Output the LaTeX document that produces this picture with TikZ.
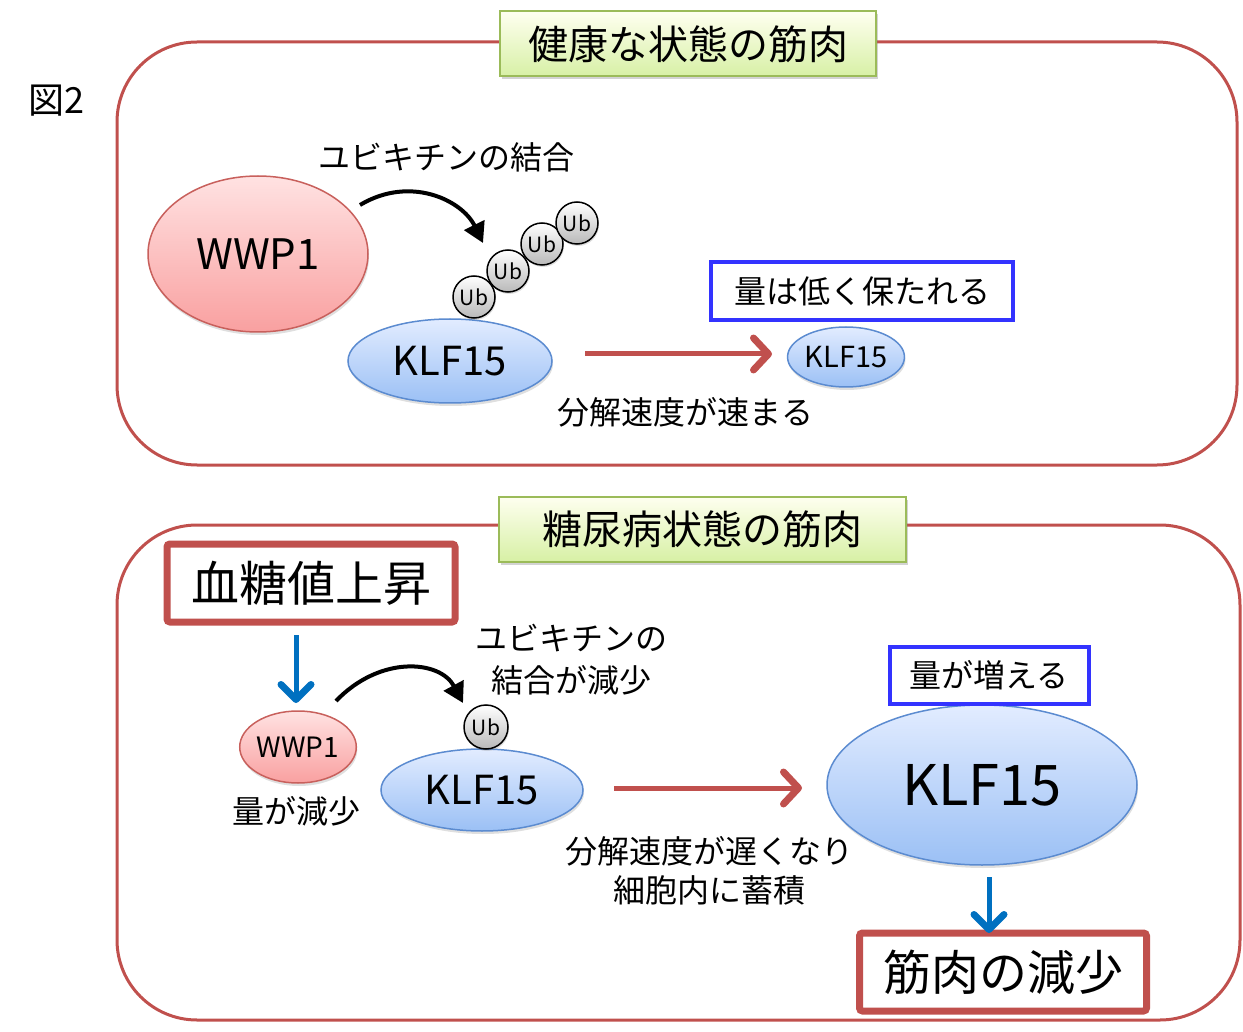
\documentclass[tikz,border=0pt]{standalone}
\usepackage{fontspec}
\setmainfont{Noto Sans CJK JP}
\usetikzlibrary{arrows.meta,shadows,shapes.geometric}
\definecolor{pred}{HTML}{C0504D}
\definecolor{pblue}{HTML}{3333FF}
\definecolor{arblue}{HTML}{0070C0}
\definecolor{gborder}{HTML}{9BBB59}
\definecolor{kborder}{HTML}{5B8BD0}
\definecolor{wborder}{HTML}{C8605C}
\tikzset{
  panel/.style={draw=pred,line width=3pt,rounded corners=80pt},
  titlebox/.style={draw=gborder,line width=2pt,top color=green!4!yellow!6!white,bottom color={rgb,255:red,215;green,240;blue,165},inner sep=0pt,minimum height=65pt,drop shadow={shadow xshift=2pt,shadow yshift=-3pt,opacity=0.35},font=\fontsize{40}{44}\selectfont},
  bluebox/.style={draw=pblue,line width=4pt,fill=white,inner sep=0pt,font=\fontsize{32}{36}\selectfont},
  redbox/.style={draw=pred,line width=7pt,fill=white,rounded corners=3pt,inner sep=0pt,font=\fontsize{48}{52}\selectfont},
  wwp/.style={ellipse,draw=wborder,line width=1.5pt,top color={rgb,255:red,255;green,226;blue,226},bottom color={rgb,255:red,249;green,160;blue,160},inner sep=0pt,drop shadow={shadow xshift=1pt,shadow yshift=-3pt,opacity=0.25}},
  klf/.style={ellipse,draw=kborder,line width=1.5pt,top color={rgb,255:red,226;green,236;blue,255},bottom color={rgb,255:red,155;green,192;blue,245},inner sep=0pt,drop shadow={shadow xshift=1pt,shadow yshift=-3pt,opacity=0.25}},
  ub/.style={circle,draw=black,line width=1.5pt,top color=white,bottom color={rgb,255:red,185;green,185;blue,185},inner sep=0pt,minimum size=42pt,font=\fontsize{21}{22}\selectfont,drop shadow={shadow xshift=1pt,shadow yshift=-2pt,opacity=0.25}},
  lbl/.style={inner sep=0pt,font=\fontsize{32}{36}\selectfont},
  redarrow/.style={draw=pred,line width=5pt,-{Straight Barb[length=15pt,width=32pt,line width=7pt,round]}},
  bluearrow/.style={draw=arblue,line width=5pt,-{Straight Barb[length=15pt,width=30pt,line width=7pt,round]}},
  curvearrow/.style={draw=black,line width=4pt,-{Triangle[length=20pt,width=22pt]}},
}
\begin{document}
\begin{tikzpicture}[x=1pt,y=-1pt]
\useasboundingbox (0,0) rectangle (1243,1032);
% panels
\draw[panel] (117,42) rectangle (1237,465);
\draw[panel] (117,525) rectangle (1240,1020);
\node[lbl,font=\fontsize{36}{38}\selectfont] (fig) at (56,101) {図2};
% titles
\node[titlebox,minimum width=376pt] (t1) at (688,44) {健康な状態の筋肉};
\node[titlebox,minimum width=407pt] (t2) at (702,529) {糖尿病状態の筋肉};
% ---------- top panel ----------
\node[wwp,minimum width=220pt,minimum height=156pt,font=\fontsize{42}{44}\selectfont] (w1) at (258,254) {WWP1};
\node[klf,minimum width=204pt,minimum height=84pt,font=\fontsize{40}{44}\selectfont] (k1) at (450,361) {KLF15};
\node[ub] (u1) at (474,297) {Ub};
\node[ub] (u2) at (508,271) {Ub};
\node[ub] (u3) at (542,244) {Ub};
\node[ub] (u4) at (577,223) {Ub};
\node[lbl] (l1) at (446,157) {ユビキチンの結合};
\coordinate (c1s) at (360,205);
\coordinate (c1e) at (483,243);
\draw[curvearrow] (c1s) .. controls (410,175) and (462,200) .. (c1e);
\node[klf,minimum width=110pt,minimum height=60pt,font=\fontsize{29}{30}\selectfont] (k2) at (846,357) {KLF15};
\node[bluebox,minimum width=302pt,minimum height=58pt] (b1) at (862,291) {量は低く保たれる};
\coordinate (r1s) at (585,354);
\coordinate (r1e) at (772,354);
\draw[redarrow] (r1s) -- (r1e);
\node[lbl] (l2) at (685,412) {分解速度が速まる};
% ---------- bottom panel ----------
\node[redbox,minimum width=288pt,minimum height=78pt] (rb1) at (311,583) {血糖値上昇};
\node[wwp,minimum width=104pt,minimum height=72pt,font=\fontsize{28}{30}\selectfont] (w2) at (298,747) {WWP1};
\coordinate (ba1s) at (296,635);
\coordinate (ba1e) at (296,703);
\draw[bluearrow] (ba1s) -- (ba1e);
\node[lbl] (l3) at (296,811) {量が減少};
\node[klf,minimum width=202pt,minimum height=82pt,font=\fontsize{40}{44}\selectfont] (k3) at (482,790) {KLF15};
\node[ub,minimum size=44pt] (u5) at (486,727) {Ub};
\coordinate (c2s) at (336,701);
\coordinate (c2e) at (463,703);
\draw[curvearrow] (c2s) .. controls (380,655) and (440,660) .. (c2e);
\node[lbl] (l4) at (571,638) {ユビキチンの};
\node[lbl] (l5) at (571,680) {結合が減少};
\coordinate (r2s) at (614,788);
\coordinate (r2e) at (802,788);
\draw[redarrow] (r2s) -- (r2e);
\node[lbl] (l6) at (709,851) {分解速度が遅くなり};
\node[lbl] (l7) at (709,890) {細胞内に蓄積};
\node[klf,minimum width=310pt,minimum height=160pt,font=\fontsize{56}{60}\selectfont] (k4) at (982,785) {KLF15};
\node[bluebox,minimum width=199pt,minimum height=57pt] (b2) at (989,675) {量が増える};
\node[redbox,minimum width=287pt,minimum height=78pt] (rb2) at (1003,972) {筋肉の減少};
\coordinate (ba2s) at (989,877);
\coordinate (ba2e) at (989,933);
\draw[bluearrow] (ba2s) -- (ba2e);
\end{tikzpicture}
\end{document}
